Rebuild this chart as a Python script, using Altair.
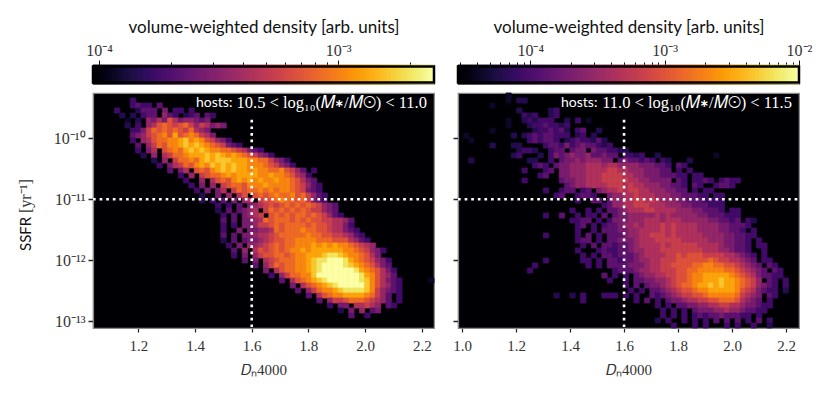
import altair as alt
import numpy as np
import pandas as pd

NCOLS, NROWS = 64, 47
LEFT_VMIN, LEFT_VMAX = 0.944e-4, 2.52e-3
RIGHT_VMIN, RIGHT_VMAX = 2.9e-5, 1.0e-2
LEFT_XDOM = [1.04, 2.243]
RIGHT_XDOM = [0.985, 2.248]
YDOM_LOG = [-13.11, -9.26]
LEFT_XTICKS = [1.2, 1.4, 1.6, 1.8, 2.0, 2.2]
RIGHT_XTICKS = [1.0, 1.2, 1.4, 1.6, 1.8, 2.0, 2.2]
YTICKS = [1e-13, 1e-12, 1e-11, 1e-10]
LEFT_CB_MAJOR = [1e-4, 1e-3]
LEFT_CB_TICKS = [1e-4, 2e-4, 3e-4, 4e-4, 5e-4, 6e-4, 7e-4, 8e-4, 9e-4, 1e-3, 2e-3]
RIGHT_CB_MAJOR = [1e-4, 1e-3, 1e-2]
RIGHT_CB_TICKS = [3e-5, 4e-5, 5e-5, 6e-5, 7e-5, 8e-5, 9e-5,
                  1e-4, 2e-4, 3e-4, 4e-4, 5e-4, 6e-4, 7e-4, 8e-4, 9e-4,
                  1e-3, 2e-3, 3e-3, 4e-3, 5e-3, 6e-3, 7e-3, 8e-3, 9e-3, 1e-2]

# (row from top, first column, one colour level per cell: . empty, 1..f on the colourbar)
LEFT_ROWS = [
    (1, 7, "3"),
    (2, 7, "3433.4"),
    (3, 4, "3...2444.5.33.3"),
    (4, 5, "2.2.344.643.234.43"),
    (5, 6, "1.2.657597566545"),
    (6, 6, "2.3.679a989a8687565"),
    (7, 7, "3358a9a9a98a765"),
    (8, 7, "45689ab9c9aba875"),
    (9, 7, "3.679aabbcdbcb98653"),
    (10, 8, "4.68a9bbcdcdcba98543"),
    (11, 8, "3.57.9abacdcdcbbaa987543"),
    (12, 9, "2.6.78aabcccdcdcbcba98653"),
    (13, 11, "2.6.8aabacdcdddcccbbaa8653"),
    (14, 12, "3.578a9bcbdcdcdccbbba98653"),
    (15, 14, "4.57.9a9bcdcdccbcbbaab9864.3"),
    (16, 16, "3.6.89aabcbccccbbcbba9763"),
    (17, 17, "3..6.79a9bcbcbcbbcbba9754"),
    (18, 18, "3.5.6.89aa9bbbcbbbba98643"),
    (19, 19, "3.5.57.8a9aabababba98543"),
    (20, 20, "2..5.6.79.9a9abaab9a8643"),
    (21, 20, "2.3.4.5.67.899abaa9a8543"),
    (22, 23, "3.3.4.5678989a9a9a98654"),
    (23, 23, "2.4.4567.8a9a9a9a988654"),
    (24, 24, "3.4.5678.9a9a9aa9a98643"),
    (25, 24, "4.4.5567a9aaa9a9a99887764"),
    (26, 24, "3.3.556" + "889a9" + "aaaa9a" + "99877" + "53"),
    (27, 24, "3..5.55" + "667a" + "9aaaba" + "a9987" + "7543"),
    (28, 24, "4.4.556" + "7789" + "aaaaab" + "aa9988" + "7643"),
    (29, 24, "2.4.455" + "6789" + "9aab" + "bbba" + "aa999" + "7643"),
    (30, 25, "3.5.66789a9a" + "abbbcbcbcb" + "ba9" + "876"),
    (31, 26, "4.6.7989a9a" + "bbcbccccc" + "cbb" + "a98" + "653"),
    (32, 26, "3.5.68" + "99aa9ab" + "bccc" + "dee" + "dcb" + "ba9" + "75"),
    (33, 28, "4.5.78" + "9aaab" + "bcde" + "efff" + "e" + "cb" + "a98" + "653"),
    (34, 30, "4.68a9" + "aab" + "bcd" + "effffe" + "d" + "cb" + "a97" + "54"),
    (35, 32, "5.79a" + "abb" + "cd" + "effffff" + "e" + "cb" + "a97" + "53"),
    (36, 33, "3.68a" + "abb" + "d" + "ffffffff" + "e" + "cb" + "97" + "64"),
    (37, 35, "4.79" + "abc" + "de" + "ffffff" + "ed" + "b" + "97" + "543"),
    (37, 63, "1"),
    (38, 37, "5.79" + "ab" + "cd" + "efffff" + "d" + "b" + "97" + "643"),
    (39, 38, "4.68" + "ab" + "bcd" + "eeee" + "d" + "b" + "86" + "543"),
    (40, 40, "4.79" + "abb" + "cccc" + "ba" + "86" + "4.3"),
    (41, 42, "4.6" + "889" + "aaa9" + "876" + "4.3"),
    (42, 44, "3.55.77876.43"),
    (43, 46, "2.5.6.45"),
    (44, 48, "4..3"),
]

RIGHT_ROWS = [
    (0, 9, "1"),
    (1, 9, "1.22"),
    (2, 6, "1"),
    (3, 11, "2.....23"),
    (4, 12, "323..23"),
    (5, 9, "1..232333..2.3.1"),
    (6, 9, "1...23343323"),
    (7, 6, "1.......2334342.34..2"),
    (8, 1, "1........2.234344333.23.2"),
    (9, 2, "1..........343443.23433242"),
    (10, 6, "2...22....3443534544323"),
    (11, 11, "2332..344.455.5443322"),
    (12, 10, "23...2.3545655644544.3323..2..........1"),
    (13, 2, "2..........22..3.4556566655.4544343.32...2"),
    (14, 14, "343." + "45566677" + "767766" + "66555" + "443.43"),
    (15, 12, "3...34." + "5566677" + "778877" + "66655" + "544.3.3"),
    (16, 15, "34.." + "5566677" + "788887" + "76655" + "544433.33"),
    (17, 12, "3......" + "4556677" + "788888" + "77665" + "555.43" + ".3343" + ".3433"),
    (18, 20, "456677" + "778887" + "87766" + "655443" + ".43..3443"),
    (19, 16, "3..344.34." + "567787" + "88776" + "66554" + "4.3.33."),
    (20, 18, "34..3443.." + "5667" + "78777" + "66655" + "44433.33"),
    (21, 22, "3..44." + "4667" + "78878" + "76665" + "54443333"),
    (22, 27, "3" + "4667" + "78887" + "77666" + "55444333"),
    (23, 21, "3..3.3.4" + "456" + "77788" + "77776" + "665544" + "43.33"),
    (24, 16, "3..4..3.33.4." + "45" + "5666" + "66767" + "66666" + "5544" + "4333"),
    (25, 21, "3344.3.3" + "55" + "56667" + "77677" + "76666" + "6554" + "434.32"),
    (26, 22, "34.3.34" + "45" + "66767" + "77878" + "77776" + "6665" + "54443"),
    (27, 22, "3..3.44" + "45" + "5667" + "777878" + "77776" + "6665" + "5443.3"),
    (28, 16, "3.....3.4.3.44" + "4" + "5667" + "788878" + "77777" + "66665" + "54433"),
    (29, 22, "344.3.4" + "45" + "5567" + "778888" + "87777" + "76665" + "5443.3"),
    (30, 23, "3.4.44" + "34" + "4567" + "77787" + "88888" + "77776" + "5544" + "3.33"),
    (31, 22, "3...343" + "34" + "4566" + "77788" + "88888" + "87776" + "6544" + "3..3"),
    (32, 23, "3.3.44" + "34" + "4456" + "77778" + "89899" + "98888" + "7765" + "43.3"),
    (33, 16, "3......33.3.44" + "3" + "4456" + "67788" + "89999" + "99a98" + "8776" + "54.33"),
    (34, 14, "3.........3.3.44" + "4" + "45556" + "7788" + "9999" + "aabba" + "a998" + "765" + "4.43"),
    (35, 13, "3..............." + "34" + "44566" + "7788" + "899a" + "abbbb" + "baa9" + "876" + "54.43"),
    (36, 27, "4.3.3." + "456" + "6778" + "899" + "abb" + "ccccc" + "ba" + "987" + "5443" + "3"),
    (37, 28, "3..3.4" + "455" + "667" + "899" + "abb" + "cccdcc" + "b" + "a98" + "6.43" + ".3"),
    (38, 31, "3.4.4" + "556" + "789" + "aab" + "ccdcdc" + "cb" + "a98" + "654" + "3.3"),
    (39, 32, "3.3." + "445" + "678" + "99a" + "bbcccc" + "cb" + "987" + "543" + "3.2"),
    (40, 18, "2..2.3...333.3.3..4" + "345" + "678" + "899" + "abbbb" + "ba" + "876" + "5.43"),
    (41, 23, "3.........3.4." + "3.4" + "556" + "778" + "899aa" + "a9" + "765" + "4.3"),
    (42, 37, "3.3." + "445" + "566" + "7788" + "776" + "5543" + "3"),
    (43, 38, "3.3." + "3.45" + "55667" + "665" + "4433"),
    (44, 38, "3.3." + "3.343" + "44544" + "433" + ".3"),
    (45, 37, "2.3..3.3.3.4.4.4.3.4.3"),
    (46, 40, "3...3.3...3.3..3..2"),
]

SERIF = "Liberation Serif"
SANS = "Lato"
INK = "#333333"
SPINE = "#8a8a8a"
CB_TITLE = "volume-weighted density [arb. units]"
LEFT_HOST = "10.5 < log₁₀(𝑀∗/𝑀⊙) < 11.0"
RIGHT_HOST = "11.0 < log₁₀(𝑀∗/𝑀⊙) < 11.5"

W, H, CBH = 341, 235, 19


def cells(rows, xdom, vmin, vmax):
    xe = np.linspace(xdom[0], xdom[1], NCOLS + 1)
    ye = np.linspace(YDOM_LOG[1], YDOM_LOG[0], NROWS + 1)
    out = []
    for r, start, s in rows:
        for i, ch in enumerate(s):
            if ch == ".":
                continue
            c = start + i
            out.append({
                "x": xe[c], "x2": xe[c + 1],
                "y": 10 ** ye[r], "y2": 10 ** ye[r + 1],
                "v": vmin * (vmax / vmin) ** (int(ch, 16) / 15),
            })
    return pd.DataFrame(out)


def colorbar(vmin, vmax, ticks, major):
    e = np.geomspace(vmin, vmax, 343)
    df = pd.DataFrame({"a": e[:-1], "b": e[1:], "v": np.sqrt(e[:-1] * e[1:])})
    scale = alt.Scale(type="log", domain=[vmin, vmax], nice=False)
    cscale = alt.Scale(type="log", domain=[vmin, vmax], scheme="inferno")
    sup = {1e-4: "10⁻⁴", 1e-3: "10⁻³", 1e-2: "10⁻²"}
    expr = " : ".join(f"datum.value == {k} ? '{v}'" for k, v in sup.items()) + " : ''"
    test = "indexof([" + ",".join(str(m) for m in major) + "], datum.value) >= 0"
    axis = alt.Axis(
        orient="top", values=ticks, title=CB_TITLE, titleFont=SANS, titleFontSize=17,
        titleFontWeight="normal", titleColor="#111111", titlePadding=6, grid=False, domain=False,
        labelExpr=expr, labelFont=SERIF, labelFontSize=16, labelColor=INK, labelOverlap=False,
        labelFlush=False, labelPadding=2, tickColor="#111111", tickWidth=1,
        tickSize={"condition": {"test": test, "value": 5}, "value": 3},
    )
    bar = alt.Chart(df).mark_rect(strokeWidth=0.8).encode(
        x=alt.X("a:Q", scale=scale, axis=axis),
        x2="b:Q",
        y=alt.value(0),
        y2=alt.value(CBH),
        color=alt.Color("v:Q", scale=cscale, legend=None),
        stroke=alt.Stroke("v:Q", scale=cscale, legend=None),
    )
    frame = alt.Chart(pd.DataFrame({"a": [vmin], "b": [vmax]})).mark_rect(
        fillOpacity=0, stroke="#000000", strokeWidth=2.5
    ).encode(x=alt.X("a:Q", scale=scale, axis=axis), x2="b:Q",
             y=alt.value(1.5), y2=alt.value(CBH - 1.5))
    return alt.layer(bar, frame).properties(width=W, height=CBH)


def heat(rows, xdom, vmin, vmax, xticks, host, left):
    df = cells(rows, xdom, vmin, vmax)
    xs = alt.Scale(domain=xdom, nice=False, zero=False)
    ys = alt.Scale(type="log", domain=[10 ** YDOM_LOG[0], 10 ** YDOM_LOG[1]], nice=False)
    cs = alt.Scale(type="log", domain=[vmin, vmax], scheme="inferno")
    xaxis = alt.Axis(values=xticks, format=".1f", title="𝐷ₙ4000", titleFont=SERIF, titleFontSize=15,
                     titleFontWeight="normal", titleColor=INK, titlePadding=9, grid=False,
                     labelFont=SERIF, labelFontSize=15, labelColor=INK, labelPadding=6,
                     labelFlush=False, tickColor="#222222", tickSize=4, tickWidth=1.2,
                     domainColor=SPINE, domainWidth=1.2)
    expo = {1e-13: "10⁻¹³", 1e-12: "10⁻¹²", 1e-11: "10⁻¹¹", 1e-10: "10⁻¹⁰"}
    ylabel = " : ".join(f"datum.value == {k} ? '{v}'" for k, v in expo.items()) + " : ''"
    yaxis = alt.Axis(values=YTICKS, title=None, grid=False, labelExpr=ylabel, labels=left,
                     labelFont=SERIF, labelFontSize=16, labelColor=INK, labelPadding=3,
                     tickColor="#222222", tickSize=5, tickWidth=1.5, domainColor=SPINE, domainWidth=1.2)
    base = alt.Chart(df).mark_rect(strokeWidth=0.8).encode(
        x=alt.X("x:Q", scale=xs, axis=xaxis),
        x2="x2:Q",
        y=alt.Y("y:Q", scale=ys, axis=yaxis),
        y2="y2:Q",
        color=alt.Color("v:Q", scale=cs, legend=None),
        stroke=alt.Stroke("v:Q", scale=cs, legend=None),
    )
    dot = dict(color="white", strokeWidth=2.6, strokeDash=[2.7, 3.9])
    vline = alt.Chart(pd.DataFrame({"x": [1.6], "a": [2e-10], "b": [10 ** YDOM_LOG[0]]})).mark_rule(**dot).encode(
        x=alt.X("x:Q", scale=xs), y=alt.Y("a:Q", scale=ys), y2="b:Q")
    hline = alt.Chart(pd.DataFrame({"y": [1e-11], "a": [xdom[0]], "b": [xdom[1]]})).mark_rule(**dot).encode(
        y=alt.Y("y:Q", scale=ys), x=alt.X("a:Q", scale=xs), x2="b:Q")
    t1 = alt.Chart(pd.DataFrame({"t": ["hosts:"]})).mark_text(
        font=SANS, fontSize=14, color="white", align="left", baseline="middle"
    ).encode(x=alt.value(103), y=alt.value(10), text="t:N")
    t2 = alt.Chart(pd.DataFrame({"t": [host]})).mark_text(
        font=SERIF, fontSize=16.5, color="white", align="right", baseline="middle"
    ).encode(x=alt.value(W - 7), y=alt.value(10), text="t:N")
    layers = [base, vline, hline, t1, t2]
    if left:
        s1 = alt.Chart(pd.DataFrame({"t": ["SSFR"]})).mark_text(
            font=SANS, fontSize=15, color="#111111", angle=270, align="left", baseline="middle"
        ).encode(x=alt.value(-67), y=alt.value(158), text="t:N")
        s2 = alt.Chart(pd.DataFrame({"t": ["[yr⁻¹]"]})).mark_text(
            font=SERIF, fontSize=16, color=INK, angle=270, align="left", baseline="middle"
        ).encode(x=alt.value(-67), y=alt.value(120), text="t:N")
        layers += [s1, s2]
    return alt.layer(*layers).properties(
        width=W, height=H, view=alt.ViewConfig(fill="#000004", stroke=SPINE, strokeWidth=1.2))


left_col = alt.vconcat(
    colorbar(LEFT_VMIN, LEFT_VMAX, LEFT_CB_TICKS, LEFT_CB_MAJOR),
    heat(LEFT_ROWS, LEFT_XDOM, LEFT_VMIN, LEFT_VMAX, LEFT_XTICKS, LEFT_HOST, True),
    spacing=7,
).resolve_scale(color="independent", stroke="independent", x="independent")
right_col = alt.vconcat(
    colorbar(RIGHT_VMIN, RIGHT_VMAX, RIGHT_CB_TICKS, RIGHT_CB_MAJOR),
    heat(RIGHT_ROWS, RIGHT_XDOM, RIGHT_VMIN, RIGHT_VMAX, RIGHT_XTICKS, RIGHT_HOST, False),
    spacing=7,
).resolve_scale(color="independent", stroke="independent", x="independent")

chart = alt.hconcat(left_col, right_col, spacing=15).resolve_scale(
    color="independent", stroke="independent", x="independent"
).properties(
    padding={"left": 9, "top": 9, "right": 0, "bottom": 0}, background="white"
).configure_view(stroke=SPINE, strokeWidth=1.2)

chart.save("out.html", embed_options={"renderer": "svg", "actions": False})
